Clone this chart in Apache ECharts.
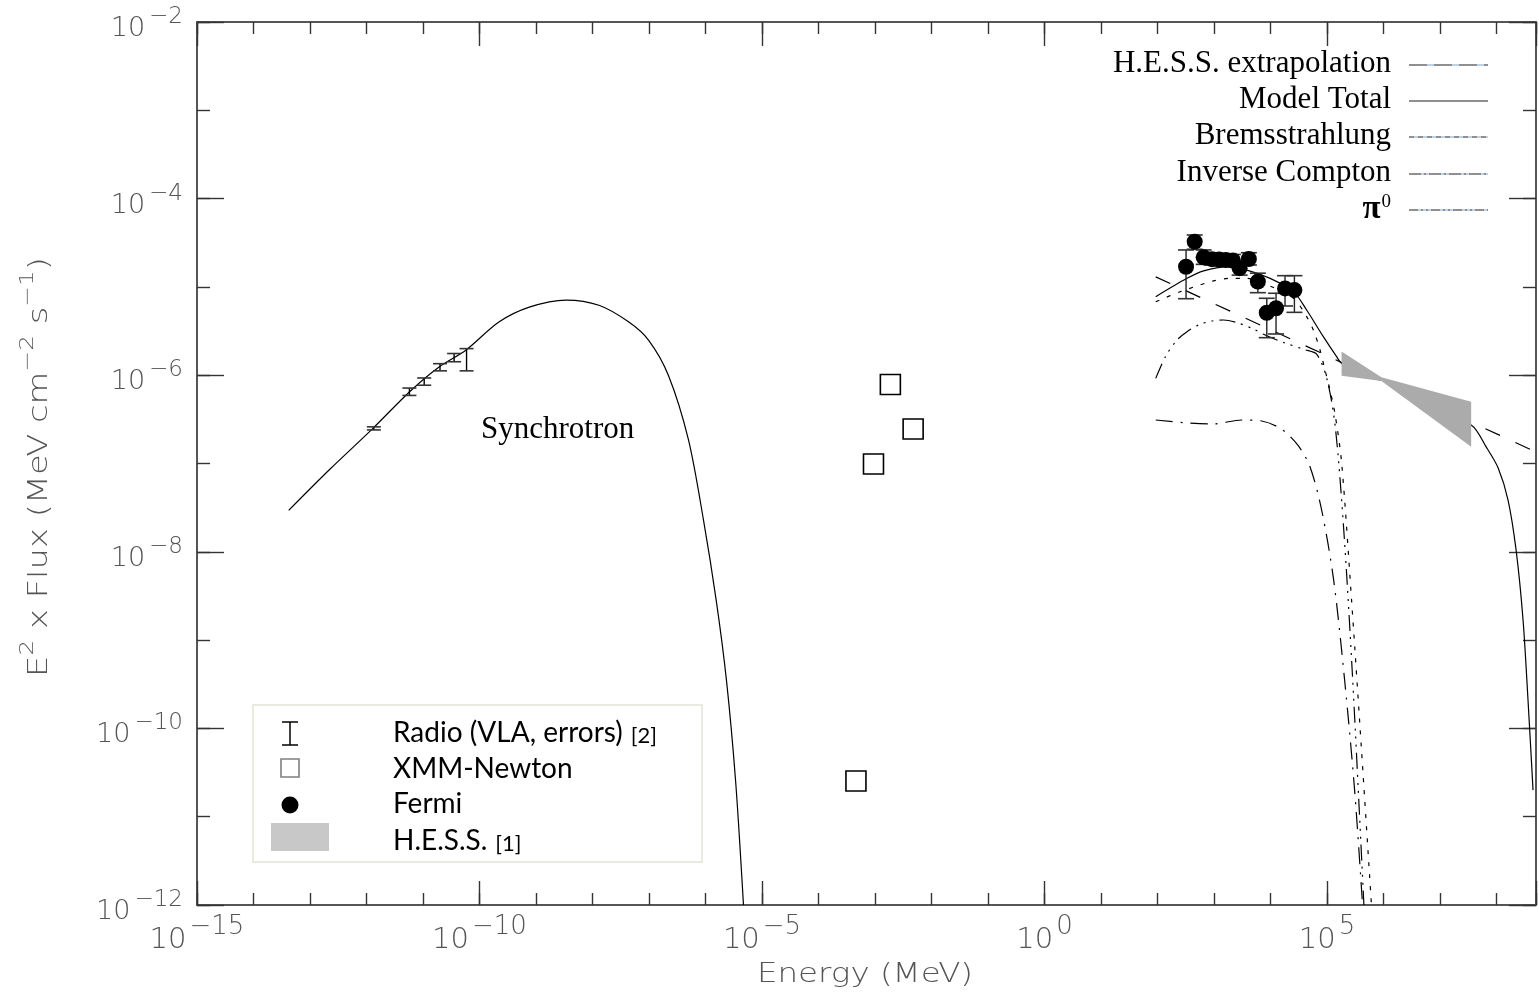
<!DOCTYPE html>
<html>
<head>
<meta charset="utf-8">
<title>Broadband SED</title>
<script src="https://cdn.jsdelivr.net/npm/echarts@6/dist/echarts.min.js"></script>
<style>
  html, body { margin: 0; padding: 0; background: #fff; }
  #chart { width: 1539px; height: 996px; }
</style>
</head>
<body>
<div id="chart"></div>
<script>
// ---- Data: energies in MeV, E^2 x Flux in MeV cm^-2 s^-1 ----

// Synchrotron model curve
const synchE = [4.2e-14, 2.2e-13, 1.3e-12, 5.8e-12, 1.9e-11, 5.8e-11, 2.2e-10, 7.6e-10, 3.4e-9, 1.3e-8,
                4.4e-8, 9.8e-8, 2.2e-7, 5.0e-7, 9.2e-7, 1.55e-6, 2.35e-6, 3.4e-6, 4.7e-6];
const synchF = [2.95e-8, 8.5e-8, 2.5e-7, 6.5e-7, 1.23e-6, 1.93e-6, 4.0e-6, 5.9e-6, 7.1e-6, 6.2e-6,
                4.0e-6, 2.5e-6, 1.0e-6, 1.85e-7, 2.3e-8, 2.8e-9, 3.5e-10, 2.6e-11, 1.0e-12];

// Radio (VLA) points with errors
const radioE    = [1.35e-12, 5.75e-12, 1.05e-11, 2.0e-11, 3.55e-11, 5.9e-11];
const radioLow  = [2.4e-7, 5.9e-7, 7.7e-7, 1.12e-6, 1.42e-6, 1.12e-6];
const radioHigh = [2.6e-7, 7.15e-7, 9.3e-7, 1.35e-6, 1.76e-6, 2.0e-6];

// XMM-Newton points
const xmmE = [1.87e-3, 4.73e-3, 9.4e-4, 4.6e-4];
const xmmF = [7.85e-7, 2.46e-7, 9.86e-8, 2.54e-11];

// Fermi points with errors
const fermiE    = [320, 455, 656, 920, 1225, 1625, 2160, 2840, 4140, 5970, 8590, 12530, 18070, 26490];
const fermiF    = [1.69e-5, 3.25e-5, 2.16e-5, 2.06e-5, 2.04e-5, 2.02e-5, 1.99e-5, 1.63e-5, 2.07e-5, 1.15e-5,
                   5.1e-6, 5.73e-6, 9.6e-6, 9.2e-6];
const fermiLow  = [7.35e-6, 2.67e-5, 1.80e-5, 1.76e-5, 1.74e-5, 1.73e-5, 1.70e-5, 1.36e-5, 1.77e-5, 8.6e-6,
                   2.66e-6, 2.93e-6, 6.08e-6, 5.15e-6];
const fermiHigh = [2.62e-5, 3.87e-5, 2.62e-5, 2.41e-5, 2.39e-5, 2.36e-5, 2.33e-5, 1.85e-5, 2.44e-5, 1.43e-5,
                   7.43e-6, 8.47e-6, 1.34e-5, 1.34e-5];

// H.E.S.S. butterfly (upper and lower edges, left to right)
const hessE     = [1.81e5, 9.18e5, 3.56e7];
const hessUpper = [1.85e-6, 9.46e-7, 5.01e-7];
const hessLower = [9.86e-7, 8.59e-7, 1.55e-7];

// H.E.S.S. power-law extrapolation
const hessExtE = [93, 5e8];
const hessExtF = [1.30e-5, 1.35e-7];

// Model components
const totalE = [93, 333, 656, 1690, 3810, 9840, 25500, 43600, 86100, 1.48e5, 1.82e5, 9.19e5,
                3.56e7, 6.56e7, 1.07e8, 1.60e8, 2.22e8, 2.95e8, 3.61e8, 4.43e8];
const totalF = [7.74e-6, 1.25e-5, 1.52e-5, 1.69e-5, 1.55e-5, 1.25e-5, 8.83e-6, 5.47e-6, 2.73e-6, 1.62e-6, 1.36e-6, 9.0e-7,
                2.73e-7, 1.54e-7, 8.9e-8, 3.86e-8, 1.05e-8, 1.69e-9, 2.1e-10, 2.0e-11];

const bremsE = [93, 254, 984, 1940, 3810, 7010, 25500, 43600, 57300, 75200, 92000, 1.13e5, 1.38e5, 1.82e5, 2.72e5, 4.08e5, 6.12e5];
const bremsF = [6.79e-6, 8.83e-6, 1.17e-5, 1.25e-5, 1.25e-5, 1.12e-5, 7.43e-6, 4.6e-6, 3.25e-6, 1.93e-6, 1.15e-6, 6.8e-7,
                3.7e-7, 1.0e-7, 2.84e-9, 5.7e-11, 1.0e-12];

const icE = [93, 333, 920, 3110, 7010, 15800, 31200, 50000, 80400, 1.31e5, 2.05e5, 3.08e5, 4.26e5];
const icF = [3.11e-7, 2.88e-7, 2.80e-7, 3.11e-7, 3.03e-7, 2.44e-7, 1.58e-7, 9.2e-8, 2.97e-8, 4.8e-9, 3.53e-10, 2.0e-11, 1.0e-12];

const pi0E = [93, 138, 222, 333, 536, 920, 1480, 2540, 4680, 8040, 16900, 39800, 66000, 1.0e5, 1.41e5, 2.0e5, 2.82e5, 3.98e5, 4.5e5];
const pi0F = [9.2e-7, 1.62e-6, 2.51e-6, 3.11e-6, 3.71e-6, 4.11e-6, 4.22e-6, 3.94e-6, 3.40e-6, 2.85e-6, 2.35e-6, 1.95e-6, 1.72e-6,
              9.0e-7, 2.5e-7, 1.6e-8, 4.0e-10, 5.0e-12, 1.0e-12];

// Axis ranges (decades) and labelled exponents
const X_MIN = -15, X_MAX = Math.log10(5e8);
const Y_MIN = -12, Y_MAX = -2;
const xLabelExponents = [-15, -10, -5, 0, 5];
const yLabelExponents = [-12, -10, -8, -6, -4, -2];

// Legend texts
const modelLegend = ['H.E.S.S. extrapolation', 'Model Total', 'Bremsstrahlung', 'Inverse Compton', '{p|π}{z|0}'];
const dataLegend = ['Radio (VLA, errors){r|[2]}', 'XMM-Newton', 'Fermi', 'H.E.S.S.{r|[1]}'];

// ---- Helpers ----
const lg = Math.log10;
const pairs = (xs, ys) => xs.map((x, i) => [lg(x), lg(ys[i])]);
const bars = (xs, lo, hi) => xs.map((x, i) => [lg(x), lg(lo[i]), lg(hi[i])]);

const AXIS_COLOR = '#555';
const TICK_COLOR = '#333';
const LABEL_COLOR = '#555';
const THIN = "'DejaVu Sans', sans-serif";
const SERIF = "'Liberation Serif', 'Times New Roman', serif";
const SANS = "Lato, 'Open Sans', sans-serif";

function expLabel(v, shown) {
  const n = Math.round(v);
  if (Math.abs(v - n) > 1e-6 || shown.indexOf(n) < 0) return '';
  return '{b|10}{s|' + (n < 0 ? '\u2212' + (-n) : String(n)) + '}';
}

function makeXAxis(position, interval, tickLen, labels, line) {
  return {
    type: 'value', position: position, min: X_MIN, max: X_MAX, interval: interval,
    axisLine: { show: line, onZero: false, lineStyle: { color: AXIS_COLOR, width: 2 } },
    axisTick: { show: true, inside: true, length: tickLen, lineStyle: { color: TICK_COLOR, width: 1.4 } },
    splitLine: { show: false },
    axisLabel: labels ? {
      show: true, margin: 9, color: LABEL_COLOR, fontFamily: THIN, fontWeight: 200,
      formatter: v => expLabel(v, xLabelExponents),
      rich: {
        b: { fontSize: 29, fontFamily: THIN, fontWeight: 200, color: LABEL_COLOR, padding: [12, 0, 0, 0], verticalAlign: 'bottom' },
        s: { fontSize: 26, fontFamily: THIN, fontWeight: 200, color: LABEL_COLOR, verticalAlign: 'top', padding: [0, 0, 0, 3] }
      }
    } : { show: false }
  };
}

function makeYAxis(position, interval, tickLen, labels, line) {
  return {
    type: 'value', position: position, min: Y_MIN, max: Y_MAX, interval: interval,
    axisLine: { show: line, onZero: false, lineStyle: { color: AXIS_COLOR, width: 2 } },
    axisTick: { show: true, inside: true, length: tickLen, lineStyle: { color: TICK_COLOR, width: 1.4 } },
    splitLine: { show: false },
    axisLabel: labels ? {
      show: true, margin: 14, color: LABEL_COLOR, fontFamily: THIN, fontWeight: 200,
      padding: [4, 0, 0, 0],
      formatter: v => expLabel(v, yLabelExponents),
      rich: {
        b: { fontSize: 27, fontFamily: THIN, fontWeight: 200, color: LABEL_COLOR, padding: [10, 0, 0, 0], verticalAlign: 'bottom' },
        s: { fontSize: 23, fontFamily: THIN, fontWeight: 200, color: LABEL_COLOR, verticalAlign: 'top', padding: [0, 0, 0, 4] }
      }
    } : { show: false }
  };
}

// Vertical error bar with caps
function errorBarRenderer(stroke, capStroke, halfCap) {
  return function (params, api) {
    const x = api.value(0);
    const pLo = api.coord([x, api.value(1)]);
    const pHi = api.coord([x, api.value(2)]);
    return {
      type: 'group',
      children: [
        { type: 'line', shape: { x1: pLo[0], y1: pLo[1], x2: pHi[0], y2: pHi[1] }, style: { stroke: stroke, lineWidth: 1.4 } },
        { type: 'line', shape: { x1: pLo[0] - halfCap, y1: pLo[1], x2: pLo[0] + halfCap, y2: pLo[1] }, style: { stroke: capStroke, lineWidth: 1.6 } },
        { type: 'line', shape: { x1: pHi[0] - halfCap, y1: pHi[1], x2: pHi[0] + halfCap, y2: pHi[1] }, style: { stroke: capStroke, lineWidth: 1.6 } }
      ]
    };
  };
}

function modelLine(name, xs, ys, dash, smooth) {
  return {
    type: 'line', name: name, data: pairs(xs, ys), showSymbol: false, symbol: 'none',
    smooth: smooth, clip: true, silent: true, z: 3,
    lineStyle: { color: '#000', width: 1.2, type: dash }
  };
}

// Butterfly polygon: upper edge then lower edge reversed
const hessPolygon = pairs(hessE, hessUpper).concat(pairs(hessE, hessLower).reverse());

const chart = echarts.init(document.getElementById('chart'), null, { renderer: 'canvas' });

// ---- Legend graphics ----
const legendRowsY = [64, 100, 136, 173, 209];
const legendDash = [
  { base: true, dash: [18, 7] },
  { base: false, dash: null },
  { base: true, dash: [5, 4] },
  { base: true, dash: [12, 3, 2, 3] },
  { base: true, dash: [9, 3, 2, 3, 2, 3] }
];
const graphics = [];
modelLegend.forEach((t, i) => {
  const y = legendRowsY[i];
  graphics.push({
    type: 'text', x: 1391, y: y, z: 50,
    style: {
      text: t, fill: '#000', font: '31px ' + SERIF, align: 'right', verticalAlign: 'middle',
      rich: {
        p: { fontSize: 33, fontFamily: SERIF, fontWeight: 'bold', fill: '#000' },
        z: { fontSize: 19, fontFamily: SERIF, fill: '#000', verticalAlign: 'top', padding: [0, 0, 13, 1] }
      }
    }
  });
  const ly = y + 1;
  if (legendDash[i].base) {
    graphics.push({ type: 'line', z: 50, shape: { x1: 1409, y1: ly, x2: 1488, y2: ly }, style: { stroke: '#7aa6d6', lineWidth: 1.2 } });
  }
  graphics.push({
    type: 'line', z: 51, shape: { x1: 1409, y1: ly, x2: 1488, y2: ly },
    style: { stroke: '#8f8f8f', lineWidth: 2, lineDash: legendDash[i].dash }
  });
});

// Data legend box
const ICON_X = 290, TEXT_X = 393;
graphics.push({ type: 'rect', z: 40, shape: { x: 253, y: 705, width: 449, height: 157 }, style: { fill: '#fff', stroke: '#e4e4d6', lineWidth: 1.5 } });
// radio icon
graphics.push({ type: 'line', z: 41, shape: { x1: ICON_X, y1: 722, x2: ICON_X, y2: 745 }, style: { stroke: '#000', lineWidth: 1.5 } });
graphics.push({ type: 'line', z: 41, shape: { x1: ICON_X - 8, y1: 722, x2: ICON_X + 8, y2: 722 }, style: { stroke: '#000', lineWidth: 1.5 } });
graphics.push({ type: 'line', z: 41, shape: { x1: ICON_X - 8, y1: 745, x2: ICON_X + 8, y2: 745 }, style: { stroke: '#000', lineWidth: 1.5 } });
// XMM icon
graphics.push({ type: 'rect', z: 41, shape: { x: ICON_X - 9, y: 759, width: 18, height: 18 }, style: { fill: '#fff', stroke: '#7f7f7f', lineWidth: 1.6 } });
// Fermi icon
graphics.push({ type: 'circle', z: 41, shape: { cx: ICON_X, cy: 805, r: 8.5 }, style: { fill: '#000' } });
// HESS icon
graphics.push({ type: 'rect', z: 41, shape: { x: 271, y: 823, width: 58, height: 28 }, style: { fill: '#c8c8c8' } });
const dataLegendY = [733, 769, 804, 841];
dataLegend.forEach((t, i) => {
  graphics.push({
    type: 'text', z: 41, x: TEXT_X, y: dataLegendY[i],
    style: {
      text: t, fill: '#000', font: '28px ' + SANS, verticalAlign: 'middle',
      rich: { r: { fontSize: 22, fontFamily: SANS, fill: '#000', padding: [5, 0, 0, 8] } }
    }
  });
});

// Synchrotron annotation
graphics.push({ type: 'text', z: 30, x: 481, y: 430, style: { text: 'Synchrotron', fill: '#000', font: '31px ' + SERIF, verticalAlign: 'middle' } });

// Axis titles
graphics.push({
  type: 'text', z: 30, x: 865, y: 975, scaleX: 1.25,
  style: { text: 'Energy (MeV)', fill: LABEL_COLOR, font: '200 26px ' + THIN, align: 'center', verticalAlign: 'middle' }
});
graphics.push({
  type: 'text', z: 30, x: 36, y: 467, rotation: Math.PI / 2, scaleX: 1.3,
  style: {
    text: '{n|E}{e|2}{n| x Flux (MeV cm}{e|\u22122}{n| s}{e|\u22121}{n|)}',
    align: 'center', verticalAlign: 'middle',
    rich: {
      n: { fontSize: 26, fontFamily: THIN, fontWeight: 200, fill: LABEL_COLOR, padding: [9, 0, 0, 0], verticalAlign: 'bottom' },
      e: { fontSize: 19, fontFamily: THIN, fontWeight: 200, fill: LABEL_COLOR, verticalAlign: 'top' }
    }
  }
});

const option = {
  animation: false,
  backgroundColor: '#fff',
  grid: { left: 197, top: 22, width: 1340, height: 883, containLabel: false },
  xAxis: [
    makeXAxis('bottom', 1, 12, false, true),
    makeXAxis('bottom', 5, 24, true, false),
    makeXAxis('top', 1, 12, false, true),
    makeXAxis('top', 5, 24, false, false)
  ],
  yAxis: [
    makeYAxis('left', 1, 13, false, true),
    makeYAxis('left', 2, 27, true, false),
    makeYAxis('right', 1, 13, false, true),
    makeYAxis('right', 2, 27, false, false)
  ],
  graphic: graphics,
  series: [
    modelLine('Synchrotron', synchE, synchF, 'solid', 0.3),
    modelLine('H.E.S.S. extrapolation', hessExtE, hessExtF, [16, 17], false),
    modelLine('Model Total', totalE, totalF, 'solid', 0.3),
    modelLine('Bremsstrahlung', bremsE, bremsF, [4, 8], 0.3),
    modelLine('Inverse Compton', icE, icF, [17, 8, 2, 8], 0.3),
    modelLine('pi0', pi0E, pi0F, [16, 6, 2, 6, 2, 6, 2, 6], 0.3),
    {
      type: 'custom', name: 'H.E.S.S.', z: 6, silent: true,
      data: hessPolygon,
      renderItem: function (params, api) {
        if (params.dataIndex !== 0) return null;
        const pts = hessPolygon.map(p => api.coord(p));
        return { type: 'polygon', shape: { points: pts }, style: { fill: '#ababab', stroke: null } };
      }
    },
    {
      type: 'custom', name: 'Radio errors', z: 7, silent: true,
      data: bars(radioE, radioLow, radioHigh),
      encode: { x: 0, y: [1, 2] },
      renderItem: errorBarRenderer('#000', '#333', 7)
    },
    {
      type: 'custom', name: 'Fermi errors', z: 7, silent: true,
      data: bars(fermiE, fermiLow, fermiHigh),
      encode: { x: 0, y: [1, 2] },
      renderItem: errorBarRenderer('#222', '#333', 8)
    },
    {
      type: 'scatter', name: 'XMM-Newton', z: 8, silent: true,
      data: pairs(xmmE, xmmF), symbol: 'rect', symbolSize: 20,
      itemStyle: { color: '#fff', borderColor: '#000', borderWidth: 1.6, opacity: 1 }
    },
    {
      type: 'scatter', name: 'Fermi', z: 9, silent: true,
      data: pairs(fermiE, fermiF), symbol: 'circle', symbolSize: 16,
      itemStyle: { color: '#000', opacity: 1 }
    }
  ]
};

chart.setOption(option);
</script>
</body>
</html>
